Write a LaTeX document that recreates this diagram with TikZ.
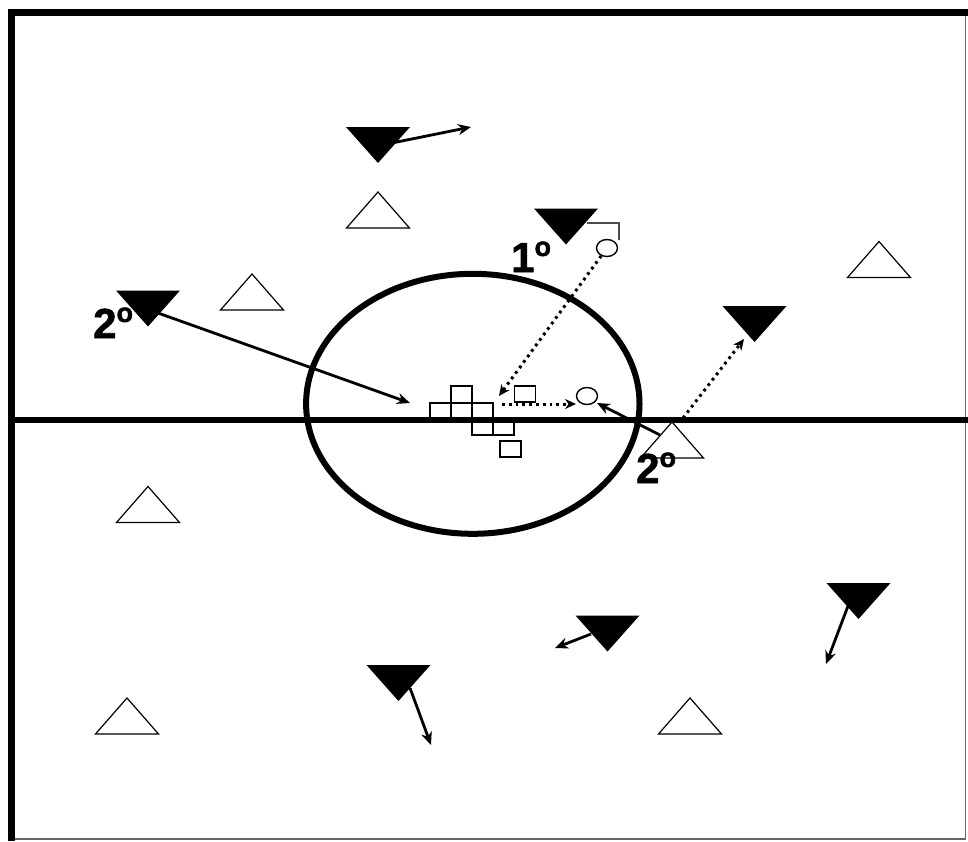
\documentclass[tikz,border=0pt]{standalone}
\usepackage{fontspec}
\setmainfont{Liberation Sans}
\newfontfamily\heavyfont[BoldFeatures={FakeBold=1.6}]{Liberation Sans}
\usetikzlibrary{arrows.meta,shapes.geometric}
\newcommand{\ordo}{\raisebox{16pt}{\fontsize{27}{27}\selectfont o}}
\begin{document}
\begin{tikzpicture}[x=1pt,y=-1pt,
  att/.pic={\draw[line width=1.2pt,fill=white] (-31.5,18) -- (31.5,18) -- (0,-18) -- cycle;},
  def/.pic={\fill[black] (-32,-18) -- (32,-18) -- (0,18) -- cycle;},
  run/.style={line width=2.8pt,-{Stealth[length=13pt,width=11pt]}},
  pass/.style={line width=3pt,dash pattern=on 2.8pt off 4pt,-{Stealth[length=11pt,width=10pt]}},
  lbl/.style={font=\heavyfont\fontsize{42}{42}\selectfont\bfseries,inner sep=0pt,anchor=base west},
  cone/.style={draw,line width=1.8pt,minimum width=21pt,minimum height=16.5pt,inner sep=0pt},
  ball/.style={draw,ellipse,line width=1.4pt,inner sep=0pt,minimum width=21pt,minimum height=17pt},
  ]
\useasboundingbox (0,0) rectangle (968,841);
% field border
\draw[line width=1.5pt,black!60] (965.5,15) -- (965.5,839) -- (15,839);
\draw[line width=6.5pt] (11.5,841) -- (11.5,12.5) -- (968,12.5);
% midline and circle
\draw[line width=6pt] (15,420) -- (968,420);
\draw[line width=6pt] (472.8,403.8) ellipse [x radius=166.7, y radius=130];
% attackers (white, up)
\pic at (378,210) {att};
\pic at (252,292) {att};
\pic at (879,259.5) {att};
\pic at (148,504.5) {att};
\pic at (127,716) {att};
\pic at (690,716) {att};
\pic at (672,440) {att};
% defenders (black, down)
\pic at (378,145) {def};
\pic at (566,226.5) {def};
\pic at (148,308.5) {def};
\pic at (754.5,324) {def};
\pic at (858.5,601) {def};
\pic at (607.5,633.5) {def};
\pic at (398.5,683) {def};
% cones
\node[cone] (c1) at (461.5,394.5) {};
\node[cone] (c2) at (440.5,411) {};
\node[cone] (c3) at (461.5,411) {};
\node[cone] (c4) at (482.5,411) {};
\node[cone] (c5) at (482.5,427) {};
\node[cone] (c6) at (503.5,427) {};
\node[cone] (c7) at (510.5,449) {};
\node[cone] (c8) at (525,394) {};
% balls
\node[ball] (b1) at (607,248) {};
\node[ball] (b2) at (587,396) {};
\draw[line width=1.5pt,black!70] (587,223) -| (619,239.5);
% coordinates for movements
\coordinate (s1) at (392,143); \coordinate (e1) at (471,127);
\coordinate (s2) at (158,313); \coordinate (e2) at (410,403);
\coordinate (s3) at (848,606); \coordinate (e3) at (826,664);
\coordinate (s4) at (591,634); \coordinate (e4) at (555,648);
\coordinate (s5) at (410,688); \coordinate (e5) at (431,745);
\coordinate (s6) at (660,435); \coordinate (e6) at (597,403);
\coordinate (p1e) at (499,396);
\coordinate (p2s) at (502,404); \coordinate (p2e) at (576,404);
\coordinate (p3s) at (683,418); \coordinate (p3e) at (744,339);
% runs
\draw[run] (s1) -- (e1);
\draw[run] (s2) -- (e2);
\draw[run] (s3) -- (e3);
\draw[run] (s4) -- (e4);
\draw[run] (s5) -- (e5);
\draw[run] (s6) -- (e6);
% passes
\draw[pass] (b1) -- (p1e);
\draw[pass] (p2s) -- (p2e);
\draw[pass] (p3s) -- (p3e);
% labels
\node[lbl] (l1) at (511,272) {1\ordo};
\node[lbl] (l2) at (93,338) {2\ordo};
\node[lbl] (l3) at (636,483) {2\ordo};
\end{tikzpicture}
\end{document}
